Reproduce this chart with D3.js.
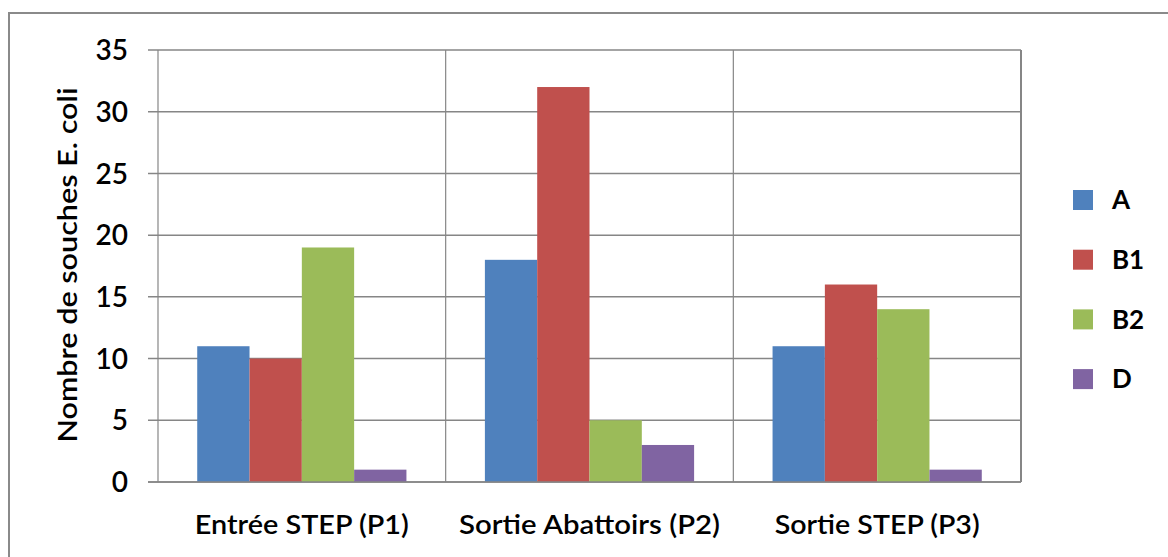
<!DOCTYPE html>
<html>
<head>
<meta charset="utf-8">
<script src="https://cdn.jsdelivr.net/npm/d3@7"></script>
<style>
  html, body { margin: 0; padding: 0; background: #fff; }
  svg { display: block; }
  text { font-family: Lato, "Open Sans", "Liberation Sans", sans-serif; fill: #000; }
</style>
</head>
<body>
<svg id="chart" width="1168" height="557"></svg>
<script>
const categories = ["Entrée STEP (P1)", "Sortie Abattoirs (P2)", "Sortie STEP (P3)"];
const seriesNames = ["A", "B1", "B2", "D"];
const valuesA  = [11, 18, 11];
const valuesB1 = [10, 32, 16];
const valuesB2 = [19, 5, 14];
const valuesD  = [1, 3, 1];
const seriesColors = ["#4F81BD", "#C0504D", "#9BBB59", "#8064A2"];
const yTicks = [0, 5, 10, 15, 20, 25, 30, 35];
const yTitle = "Nombre de souches E. coli";

const seriesValues = [valuesA, valuesB1, valuesB2, valuesD];
const data = categories.map((c, i) => ({
  cat: c,
  vals: seriesNames.map((s, j) => ({ key: s, value: seriesValues[j][i], color: seriesColors[j] }))
}));

const svg = d3.select("#chart");
const margin = { left: 158, right: 1021, top: 50, bottom: 482 };
const gridColor = "#868686";

// outer border
svg.append("path")
  .attr("d", "M9,557 L9,13 L1168,13")
  .attr("fill", "none").attr("stroke", "#8a8a8a").attr("stroke-width", 2);

const x0 = d3.scaleBand().domain(categories).range([margin.left, margin.right]).paddingInner(0).paddingOuter(0);
const x1 = d3.scaleBand().domain(seriesNames).range([0, x0.bandwidth()]).paddingOuter(0.75 * 1 / 1).paddingInner(0);
// Excel gap width ~150%: outer padding on each side = 0.75 bar width
const y = d3.scaleLinear().domain([0, 35]).range([margin.bottom, margin.top]);

// horizontal gridlines (with tick stubs)
svg.append("g").selectAll("line").data(yTicks).join("line")
  .attr("x1", margin.left - 10).attr("x2", margin.right)
  .attr("y1", d => y(d)).attr("y2", d => y(d))
  .attr("stroke", gridColor).attr("stroke-width", 1.5);

// vertical category separators
const seps = categories.map(c => x0(c) + x0.bandwidth());
svg.append("g").selectAll("line").data(seps).join("line")
  .attr("x1", d => d).attr("x2", d => d)
  .attr("y1", margin.top).attr("y2", margin.bottom)
  .attr("stroke", gridColor).attr("stroke-width", (d, i) => i === seps.length - 1 ? 2 : 1.2);

// left axis line
svg.append("line")
  .attr("x1", margin.left).attr("x2", margin.left)
  .attr("y1", margin.top).attr("y2", margin.bottom)
  .attr("stroke", gridColor).attr("stroke-width", 1.2);

// bars
const groups = svg.append("g").selectAll("g").data(data).join("g")
  .attr("transform", d => `translate(${x0(d.cat)},0)`);
groups.selectAll("rect").data(d => d.vals).join("rect")
  .attr("x", d => x1(d.key))
  .attr("width", x1.bandwidth())
  .attr("y", d => y(d.value))
  .attr("height", d => y(0) - y(d.value))
  .attr("fill", d => d.color);

// redraw baseline over bars
svg.append("line")
  .attr("x1", margin.left - 10).attr("x2", margin.right)
  .attr("y1", y(0)).attr("y2", y(0))
  .attr("stroke", gridColor).attr("stroke-width", 1.5);

// y tick labels
svg.append("g").selectAll("text").data(yTicks).join("text")
  .attr("x", 128).attr("y", d => y(d))
  .attr("dy", "0.36em")
  .attr("text-anchor", "end")
  .attr("font-size", 28)
  .attr("font-weight", 600)
  .text(d => d);

// category labels
const catWidths = [214, 261, 205];
svg.append("g").selectAll("text").data(categories).join("text")
  .attr("x", d => x0(d) + x0.bandwidth() / 2)
  .attr("y", 534)
  .attr("text-anchor", "middle")
  .attr("font-size", 27)
  .attr("font-weight", 600)
  .attr("textLength", (d, i) => catWidths[i])
  .attr("lengthAdjust", "spacingAndGlyphs")
  .text(d => d);

// y title
svg.append("text")
  .attr("transform", "translate(77,265) rotate(-90)")
  .attr("text-anchor", "middle")
  .attr("font-size", 27)
  .attr("font-weight", 600)
  .attr("textLength", 355)
  .attr("lengthAdjust", "spacingAndGlyphs")
  .text(yTitle);

// legend
const legend = svg.append("g").selectAll("g").data(seriesNames).join("g")
  .attr("transform", (d, i) => `translate(1073,${190 + i * 59.7})`);
legend.append("rect")
  .attr("width", 20).attr("height", 20)
  .attr("fill", (d, i) => seriesColors[i]);
legend.append("text")
  .attr("x", 39).attr("y", 10).attr("dy", "0.36em")
  .attr("font-size", 26)
  .attr("font-weight", 700)
  .text(d => d);
</script>
</body>
</html>
